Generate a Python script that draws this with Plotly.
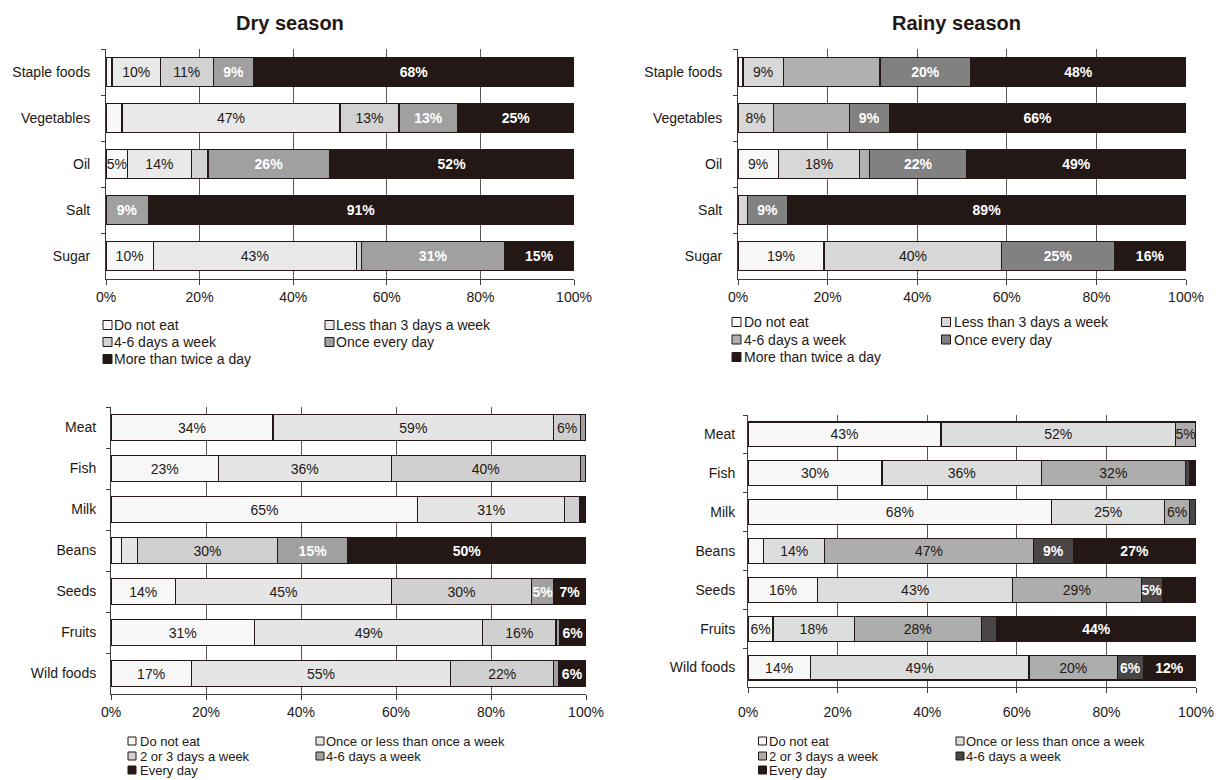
import plotly.graph_objects as go

# ---------------------------------------------------------------- categories
staple_items = ["Staple foods", "Vegetables", "Oil", "Salt", "Sugar"]
other_items = ["Meat", "Fish", "Milk", "Beans", "Seeds", "Fruits", "Wild foods"]

staple_levels = ["Do not eat", "Less than 3 days a week", "4-6 days a week",
                 "Once every day", "More than twice a day"]
other_levels = ["Do not eat", "Once or less than once a week",
                "2 or 3 days a week", "4-6 days a week", "Every day"]

season_titles = ["Dry season", "Rainy season"]

# ------------------------------------------- shares (%) per item and level
dry_staple_pct = [
    [1.3, 10.3, 11.3, 8.7, 68.4],
    [3.4, 46.6, 12.6, 12.6, 24.8],
    [4.6, 13.6, 3.6, 26.0, 52.2],
    [0, 0, 0, 9.0, 91.0],
    [10.1, 43.4, 1.1, 30.6, 14.8],
]
rainy_staple_pct = [
    [1.1, 9.0, 21.6, 20.3, 48.0],
    [0, 7.9, 16.9, 9.0, 66.2],
    [9.0, 18.2, 2.2, 21.7, 48.9],
    [0, 2.1, 0, 9.0, 88.9],
    [19.2, 39.7, 0, 25.1, 16.0],
]
dry_other_pct = [
    [34.1, 59.1, 5.6, 1.2, 0],
    [22.6, 36.4, 39.8, 1.2, 0],
    [64.6, 30.9, 3.2, 0, 1.3],
    [2.2, 3.3, 29.6, 14.8, 50.1],
    [13.6, 45.4, 29.6, 4.6, 6.8],
    [30.6, 48.6, 15.6, 0.8, 5.6],
    [16.9, 54.6, 21.7, 1.0, 5.8],
]
rainy_other_pct = [
    [43.1, 52.3, 4.6, 0, 0],
    [29.9, 35.6, 32.1, 1.0, 1.4],
    [67.8, 25.2, 5.6, 1.4, 0],
    [3.5, 13.6, 46.6, 8.9, 27.4],
    [15.6, 43.4, 28.8, 4.7, 7.5],
    [5.6, 18.1, 28.4, 3.5, 44.4],
    [13.9, 48.8, 19.8, 5.7, 11.8],
]

# which segments carry a printed value (1 = printed)
dry_staple_shown = [
    [0, 1, 1, 1, 1],
    [0, 1, 1, 1, 1],
    [1, 1, 0, 1, 1],
    [0, 0, 0, 1, 1],
    [1, 1, 0, 1, 1],
]
rainy_staple_shown = [
    [0, 1, 0, 1, 1],
    [0, 1, 0, 1, 1],
    [1, 1, 0, 1, 1],
    [0, 0, 0, 1, 1],
    [1, 1, 0, 1, 1],
]
dry_other_shown = [
    [1, 1, 1, 0, 0],
    [1, 1, 1, 0, 0],
    [1, 1, 0, 0, 0],
    [0, 0, 1, 1, 1],
    [1, 1, 1, 1, 1],
    [1, 1, 1, 0, 1],
    [1, 1, 1, 0, 1],
]
rainy_other_shown = [
    [1, 1, 1, 0, 0],
    [1, 1, 1, 0, 0],
    [1, 1, 1, 0, 0],
    [0, 1, 1, 1, 1],
    [1, 1, 1, 1, 0],
    [1, 1, 1, 0, 1],
    [1, 1, 1, 1, 1],
]

x_ticks = [0, 20, 40, 60, 80, 100]
x_tick_labels = ["0%", "20%", "40%", "60%", "80%", "100%"]

# ------------------------------------------------------------------ styling
W, H = 1222, 780
FONT = "Liberation Sans, Arial, Helvetica, sans-serif"
INK = "#231815"
AXIS = "#3e3a39"
GRID = "#595757"

panels = [
    dict(items=staple_items, levels=staple_levels, pct=dry_staple_pct,
         shown=dry_staple_shown,
         colors=["#f8f8f8", "#e9e9e9", "#d2d2d2", "#a0a0a0", INK],
         box=(106, 574, 49, 279), width=0.62, ypad=12, xpad=0,
         leg=dict(cols=(107.5, 329.5), txt=(113, 335), rows=(325, 342, 359),
                  sw=9, size=14)),
    dict(items=staple_items, levels=staple_levels, pct=rainy_staple_pct,
         shown=rainy_staple_shown,
         colors=["#f8f8f8", "#d7d7d7", "#b0b0b0", "#818181", INK],
         box=(738, 1186, 49, 279), width=0.62, ypad=12, xpad=0,
         leg=dict(cols=(736.5, 946), txt=(743, 953), rows=(322, 339.5, 357),
                  sw=9, size=14)),
    dict(items=other_items, levels=other_levels, pct=dry_other_pct,
         shown=dry_other_shown,
         colors=["#f7f7f7", "#e4e5e4", "#d0d0d0", "#a0a0a0", INK],
         box=(111, 586, 407, 694), width=0.62, ypad=11, xpad=0,
         leg=dict(cols=(132, 320), txt=(139, 325), rows=(741, 756, 770),
                  sw=8, size=13)),
    dict(items=other_items, levels=other_levels, pct=rainy_other_pct,
         shown=rainy_other_shown,
         colors=["#f7f7f7", "#dcdddd", "#adadad", "#4a4646", INK],
         box=(748, 1196, 415, 687), width=0.64, ypad=9, xpad=7,
         leg=dict(cols=(762.5, 960), txt=(768, 965), rows=(741, 756, 770),
                  sw=8, size=13)),
]


def px(x):
    return x / W


def py(y):
    return 1 - y / H


fig = go.Figure()
shapes, annotations = [], []

for k, p in enumerate(panels, start=1):
    sfx = "" if k == 1 else str(k)
    x0, x1, y0, y1 = p["box"]
    for j, level in enumerate(p["levels"]):
        vals = [row[j] for row in p["pct"]]
        labels = [f"{row[j]:.0f}%" if p["shown"][i][j] else ""
                  for i, row in enumerate(p["pct"])]
        dark = j >= 3
        fig.add_trace(go.Bar(
            x=vals, y=p["items"], orientation="h", name=level,
            xaxis="x" + sfx, yaxis="y" + sfx, width=p["width"],
            marker=dict(color=p["colors"][j], line=dict(color=INK, width=1.2)),
            text=labels, textposition="inside", insidetextanchor="middle",
            textangle=0, constraintext="none",
            textfont=dict(family=FONT, size=14,
                          color="#ffffff" if dark else INK,
                          weight="bold" if dark else "normal"),
            showlegend=False, hoverinfo="x+y+name",
        ))

    fig.layout["xaxis" + sfx] = dict(
        domain=[px(x0), px(x1)], anchor="y" + sfx, range=[0, 100],
        automargin=False,
        tickvals=x_ticks, ticktext=x_tick_labels, ticklabelstandoff=p["xpad"],
        showgrid=True, gridcolor=GRID, gridwidth=1, zeroline=False,
        showline=True, linecolor=AXIS, linewidth=1,
        ticks="outside", ticklen=5, tickcolor=AXIS, tickwidth=1,
        tickfont=dict(family=FONT, size=14, color=INK), fixedrange=True,
    )
    fig.layout["yaxis" + sfx] = dict(
        domain=[py(y1), py(y0)], anchor="x" + sfx, type="category",
        automargin=False,
        autorange="reversed", tickson="boundaries", ticklabelstandoff=p["ypad"],
        showgrid=False, zeroline=False,
        showline=True, linecolor=AXIS, linewidth=1,
        ticks="outside", ticklen=4, tickcolor=AXIS, tickwidth=1,
        tickfont=dict(family=FONT, size=14, color=INK), fixedrange=True,
    )

    # legend swatches and names, two columns
    lg = p["leg"]
    for j, level in enumerate(p["levels"]):
        r, c = divmod(j, 2)
        cx, cy, h = lg["cols"][c], lg["rows"][r], lg["sw"] / 2
        shapes.append(dict(type="rect", xref="paper", yref="paper",
                           x0=px(cx - h), x1=px(cx + h),
                           y0=py(cy + h), y1=py(cy - h),
                           fillcolor=p["colors"][j],
                           line=dict(color=INK, width=1)))
        annotations.append(dict(text=level, xref="paper", yref="paper",
                                x=px(lg["txt"][c]), y=py(cy),
                                xanchor="left", yanchor="middle",
                                showarrow=False, borderpad=0,
                                font=dict(family=FONT, size=lg["size"], color=INK)))

for title, cx in zip(season_titles, (290, 956)):
    annotations.append(dict(text=f"<b>{title}</b>", xref="paper", yref="paper",
                            x=px(cx), y=py(23), xanchor="center",
                            yanchor="middle", showarrow=False,
                            font=dict(family=FONT, size=20, color=INK)))

fig.update_layout(
    width=W, height=H, margin=dict(l=0, r=0, t=0, b=0, pad=0),
    autosize=False,
    paper_bgcolor="white", plot_bgcolor="white",
    barmode="stack", barnorm="percent",
    shapes=shapes, annotations=annotations, showlegend=False,
    font=dict(family=FONT, color=INK),
)

fig.write_html("out.html")
